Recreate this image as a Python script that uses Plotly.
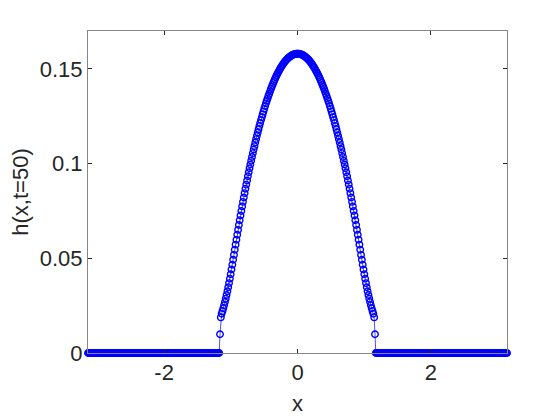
import numpy as np
import plotly.graph_objects as go

# Malla espacial y perfil h(x, t=50)
n_points = 512
x = np.linspace(-np.pi, np.pi, n_points)

h_left = [
    0.0099, 0.0188, 0.0207, 0.0221, 0.0236,
    0.0252, 0.0269, 0.0287, 0.0306, 0.0326, 0.0347, 0.0369, 0.0392, 0.0416, 0.0441,
    0.0466, 0.0492, 0.0518, 0.0545, 0.0572, 0.0598, 0.0624, 0.0650, 0.0676, 0.0701,
    0.0726, 0.0750, 0.0774, 0.0798, 0.0821, 0.0844, 0.0867, 0.0889, 0.0911, 0.0933,
    0.0954, 0.0975, 0.0995, 0.1015, 0.1035, 0.1055, 0.1074, 0.1092, 0.1111, 0.1129,
    0.1147, 0.1164, 0.1181, 0.1198, 0.1214, 0.1230, 0.1245, 0.1260, 0.1275, 0.1290,
    0.1304, 0.1318, 0.1331, 0.1344, 0.1357, 0.1369, 0.1381, 0.1393, 0.1404, 0.1415,
    0.1426, 0.1436, 0.1446, 0.1456, 0.1465, 0.1474, 0.1482, 0.1490, 0.1498, 0.1506,
    0.1513, 0.1519, 0.1526, 0.1532, 0.1538, 0.1543, 0.1548, 0.1552, 0.1557, 0.1560,
    0.1564, 0.1567, 0.1570, 0.1573, 0.1575, 0.1576, 0.1578, 0.1579, 0.1580, 0.1580,
]
h_right = [
    0.1580, 0.1580, 0.1579, 0.1578, 0.1576, 0.1575, 0.1573, 0.1570, 0.1567, 0.1564,
    0.1560, 0.1557, 0.1552, 0.1548, 0.1543, 0.1538, 0.1532, 0.1526, 0.1519, 0.1513,
    0.1506, 0.1498, 0.1490, 0.1482, 0.1474, 0.1465, 0.1456, 0.1446, 0.1436, 0.1426,
    0.1415, 0.1404, 0.1393, 0.1381, 0.1369, 0.1357, 0.1344, 0.1331, 0.1318, 0.1304,
    0.1290, 0.1275, 0.1260, 0.1245, 0.1230, 0.1214, 0.1198, 0.1181, 0.1164, 0.1147,
    0.1129, 0.1111, 0.1092, 0.1074, 0.1055, 0.1035, 0.1015, 0.0995, 0.0975, 0.0954,
    0.0933, 0.0911, 0.0889, 0.0867, 0.0844, 0.0821, 0.0798, 0.0774, 0.0750, 0.0726,
    0.0701, 0.0676, 0.0650, 0.0624, 0.0598, 0.0572, 0.0545, 0.0518, 0.0492, 0.0466,
    0.0441, 0.0416, 0.0392, 0.0369, 0.0347, 0.0326, 0.0306, 0.0287, 0.0269, 0.0252,
    0.0236, 0.0221, 0.0207, 0.0188, 0.0099,
]
support_start = 161  # fuera del soporte h = 0

x_ticks = [-2, 0, 2]
x_ticklabels = ["-2", "0", "2"]
y_ticks = [0, 0.05, 0.1, 0.15]
y_ticklabels = ["0", "0.05", "0.1", "0.15"]

h = np.zeros(n_points)
h[support_start:support_start + len(h_left) + len(h_right)] = h_left + h_right

fig = go.Figure()
fig.add_trace(go.Scatter(
    x=x,
    y=h,
    mode="lines+markers",
    line=dict(color="#0000ff", width=0.7),
    marker=dict(symbol="circle-open", size=6.5, color="#0000ff", line=dict(width=1.4)),
    cliponaxis=False,
    showlegend=False,
))

font = dict(family="Liberation Sans, Arial", size=22, color="#262626")
axis_style = dict(
    showline=True,
    linecolor="#868686",
    linewidth=1,
    mirror="ticks",
    ticks="inside",
    ticklen=4,
    tickcolor="#262626",
    showgrid=False,
    zeroline=False,
    automargin=False,
    tickfont=font,
)

# la pagina tiene 8 px de margen, se descuenta del tamano de la figura
fig.update_layout(
    width=552,
    height=412,
    paper_bgcolor="white",
    plot_bgcolor="white",
    margin=dict(l=80, r=53, t=23, b=67),
)
fig.update_xaxes(
    range=[-np.pi, np.pi],
    tickvals=x_ticks,
    ticktext=x_ticklabels,
    title=dict(text="x", font=font, standoff=11),
    **axis_style,
)
fig.update_yaxes(
    range=[0, 0.17],
    tickvals=y_ticks,
    ticktext=y_ticklabels,
    title=dict(text="h(x,t=50)", font=font, standoff=11),
    **axis_style,
)

fig.write_html("out.html")
